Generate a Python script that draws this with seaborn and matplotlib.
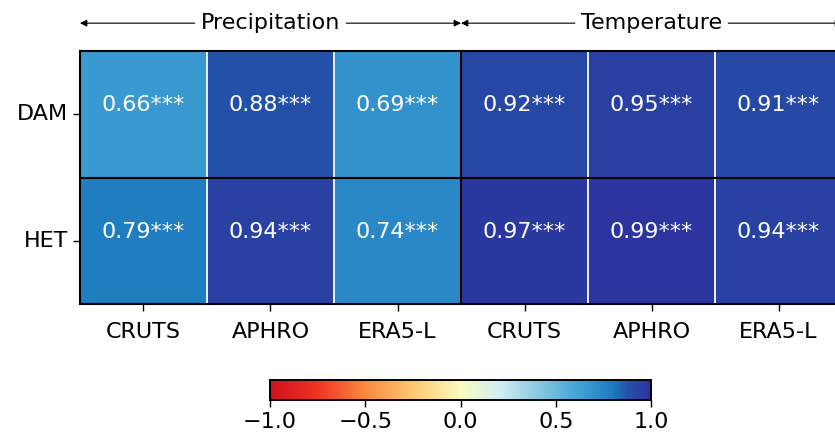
import numpy as np
import pandas as pd
import seaborn as sns
import matplotlib.pyplot as plt
from matplotlib.colors import LinearSegmentedColormap
from matplotlib.transforms import blended_transform_factory

# ======================================
# Data
# ======================================

regions = ["DAM", "HET"]
datasets = ["CRUTS", "APHRO", "ERA5-L", "CRUTS", "APHRO", "ERA5-L"]
groups = ["Precipitation", "Temperature"]

dam_r = [0.66, 0.88, 0.69, 0.92, 0.95, 0.91]
het_r = [0.79, 0.94, 0.74, 0.97, 0.99, 0.94]
signif = "***"

vals = np.array([dam_r, het_r])
labels = np.array([[f"{v:.2f}{signif}" for v in row] for row in vals])

# ======================================
# Colormap (saturated RdYlBu look)
# ======================================

cm_stops = [-1.0, -0.75, -0.5, -0.25, 0.0, 0.2, 0.4, 0.62, 0.8, 0.88, 1.0]
cm_colors = ["#d0101e", "#ee3424", "#fa8a3e", "#fdc870", "#fbfbbf", "#d2eef2",
             "#8ccbe2", "#42a2d5", "#1e7cc0", "#2452a8", "#2c329e"]
cmap = LinearSegmentedColormap.from_list(
    "rdylbu_sat", [((s + 1) / 2, c) for s, c in zip(cm_stops, cm_colors)])

# ======================================
# Figure
# ======================================

sns.set_style("white")
plt.rcParams["font.family"] = ["DejaVu Sans"]
plt.rcParams["text.color"] = "black"
plt.rcParams["xtick.color"] = "black"
plt.rcParams["ytick.color"] = "black"

fig = plt.figure(figsize=(8.35, 4.34), dpi=100)
ax = fig.add_axes([0.0958, 0.2995, 0.9126, 0.583])
cax = fig.add_axes([0.3234, 0.0783, 0.4563, 0.046])

sns.heatmap(vals, ax=ax, cbar_ax=cax, cmap=cmap, vmin=-1, vmax=1,
            annot=labels, fmt="", annot_kws={"fontsize": 16, "color": "white"},
            linewidths=1.2, linecolor="#e8eef8",
            xticklabels=datasets, yticklabels=regions,
            cbar_kws={"orientation": "horizontal", "ticks": [-1, -0.5, 0, 0.5, 1]})

for t in ax.texts:
    x, y = t.get_position()
    t.set_position((x, y - 0.07))
    t.set_color("white")

# black separators
ax.axhline(1, color="black", lw=1.5)
ax.axvline(3, color="black", lw=1.5)
for s in ax.spines.values():
    s.set_visible(True)
    s.set_color("black")
    s.set_linewidth(1.5)

ax.tick_params(axis="both", labelsize=16, length=5, width=1, color="black",
               labelcolor="black", bottom=True, left=True)
ax.tick_params(axis="x", pad=8)
ax.set_yticklabels(regions, rotation=0)
ax.set_xticklabels(datasets, rotation=0)

# group headers with arrows
tr = blended_transform_factory(ax.transData, ax.transAxes)
for i, g in enumerate(groups):
    x0, x1 = 3 * i, 3 * i + 3
    xc = (x0 + x1) / 2
    ax.annotate(g, xy=(x0, 1.11), xytext=(xc, 1.11), xycoords=tr, textcoords=tr,
                ha="center", va="center", fontsize=16, color="black",
                annotation_clip=False,
                arrowprops=dict(arrowstyle="-|>", lw=0.8, color="black",
                                mutation_scale=10, shrinkA=2, shrinkB=0))
    ax.annotate(g, xy=(x1, 1.11), xytext=(xc, 1.11), xycoords=tr, textcoords=tr,
                ha="center", va="center", fontsize=16, color="none",
                annotation_clip=False,
                arrowprops=dict(arrowstyle="-|>", lw=0.8, color="black",
                                mutation_scale=10, shrinkA=2, shrinkB=0))

# colorbar
cax.tick_params(labelsize=16, length=5, width=1, color="black",
                labelcolor="black", bottom=True)
cax.set_xticklabels(["\u22121.0", "\u22120.5", "0.0", "0.5", "1.0"])
for s in cax.spines.values():
    s.set_visible(True)
    s.set_color("black")
    s.set_linewidth(1.2)

fig.savefig("out.png", dpi=100)
